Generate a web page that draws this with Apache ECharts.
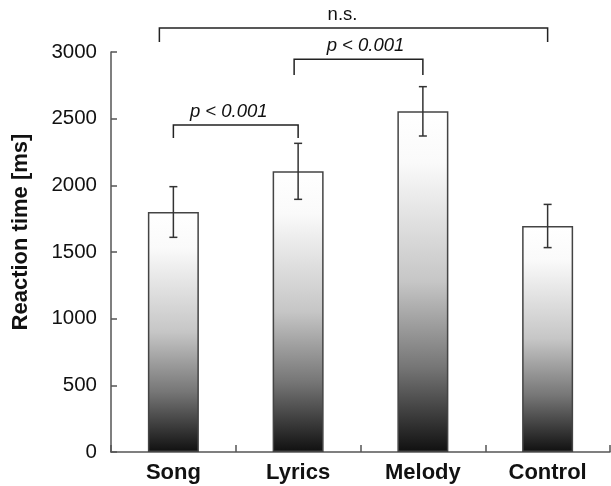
<!DOCTYPE html>
<html>
<head>
<meta charset="utf-8">
<script src="https://cdn.jsdelivr.net/npm/echarts@6.0.0/dist/echarts.min.js"></script>
<style>
  html, body { margin: 0; padding: 0; background: #fff; }
  #main { width: 611px; height: 486px; }
</style>
</head>
<body>
<div id="main"></div>
<script>
// data
const categories = ['Song', 'Lyrics', 'Melody', 'Control'];
const meanRT = [1800, 2105, 2555, 1695];
const errRT = [190, 210, 185, 162];
const yTicks = [0, 500, 1000, 1500, 2000, 2500, 3000];
// brackets: [fromIndex, toIndex, lineValue, endValue]
const bracketSpans = [[0, 1, 2452, 2355], [1, 2, 2945, 2828], [0, 3, 3180, 3075]];
const bracketTexts = ['p < 0.001', 'p < 0.001', 'n.s.'];

const chart = echarts.init(document.getElementById('main'));

const barGradient = new echarts.graphic.LinearGradient(0, 0, 0, 1, [
  { offset: 0, color: '#ffffff' },
  { offset: 0.15, color: '#fafafa' },
  { offset: 0.5, color: '#c6c6c6' },
  { offset: 0.75, color: '#767676' },
  { offset: 1, color: '#101010' }
]);

// small hand tweaks for the bracket drawing (px)
const bracketStyle = [
  { leftShift: 0, textDx: -7, italic: true },
  { leftShift: -4, textDx: 7, italic: true },
  { leftShift: -14, textDx: -11, italic: false }
];

const errData = categories.map((c, i) => [i, meanRT[i] - errRT[i], meanRT[i] + errRT[i]]);

const option = {
  animation: false,
  grid: { left: 111, right: 1, top: 52, bottom: 34 },
  xAxis: {
    type: 'category',
    data: categories,
    axisLine: { lineStyle: { color: '#555', width: 1.5 } },
    axisTick: { show: true, inside: true, length: 7, lineStyle: { color: '#555', width: 1.5 } },
    axisLabel: {
      color: '#111', fontFamily: 'Liberation Sans, Arial', fontWeight: 'bold',
      fontSize: 22, margin: 10
    }
  },
  yAxis: {
    type: 'value',
    min: 0, max: 3000, interval: 500,
    name: 'Reaction time [ms]',
    nameLocation: 'middle',
    nameGap: 79,
    nameTextStyle: {
      color: '#111', fontFamily: 'Liberation Sans, Arial', fontWeight: 'bold',
      fontSize: 22, padding: [0, 0, 0, 40]
    },
    axisLine: { show: true, lineStyle: { color: '#555', width: 1.5 } },
    axisTick: { show: true, inside: true, length: 6, lineStyle: { color: '#555', width: 1.5 } },
    splitLine: { show: false },
    axisLabel: {
      color: '#111', fontFamily: 'Liberation Sans, Arial', fontSize: 20.5, margin: 14,
      formatter: v => yTicks.includes(v) ? String(v) : ''
    }
  },
  series: [
    {
      type: 'bar',
      data: meanRT,
      barWidth: 51,
      itemStyle: { color: barGradient, borderColor: '#444', borderWidth: 1.5 }
    },
    {
      type: 'custom',
      data: errData,
      encode: { x: 0, y: [1, 2] },
      z: 5,
      renderItem: function (params, api) {
        const x = api.coord([api.value(0), api.value(1)])[0];
        const lo = api.coord([api.value(0), api.value(1)])[1];
        const hi = api.coord([api.value(0), api.value(2)])[1];
        const cap = 4;
        const st = { stroke: '#333', lineWidth: 1.5 };
        return {
          type: 'group',
          children: [
            { type: 'line', shape: { x1: x, y1: lo, x2: x, y2: hi }, style: st },
            { type: 'line', shape: { x1: x - cap, y1: lo, x2: x + cap, y2: lo }, style: st },
            { type: 'line', shape: { x1: x - cap, y1: hi, x2: x + cap, y2: hi }, style: st }
          ]
        };
      }
    },
    {
      type: 'custom',
      data: bracketSpans,
      encode: { x: [0, 1], y: [2, 3] },
      clip: false,
      z: 6,
      renderItem: function (params, api) {
        const i = params.dataIndex;
        const s = bracketStyle[i];
        const a = api.coord([api.value(0), api.value(2)]);
        const b = api.coord([api.value(1), api.value(2)]);
        const yEnd = api.coord([api.value(0), api.value(3)])[1];
        const x1 = a[0] + s.leftShift;
        const x2 = b[0];
        const y = a[1];
        const st = { stroke: '#222', lineWidth: 1.5, fill: null };
        return {
          type: 'group',
          children: [
            {
              type: 'polyline',
              shape: { points: [[x1, yEnd], [x1, y], [x2, y], [x2, yEnd]] },
              style: st
            },
            {
              type: 'text',
              x: (x1 + x2) / 2 + s.textDx,
              y: y - 4,
              style: {
                text: bracketTexts[i],
                fill: '#111',
                font: (s.italic ? 'italic ' : '') + '18.5px "Liberation Sans", Arial',
                textAlign: 'center',
                textVerticalAlign: 'bottom'
              }
            }
          ]
        };
      }
    }
  ]
};

chart.setOption(option);
window.addEventListener('resize', function () {
  chart.resize();
});
</script>
</body>
</html>
